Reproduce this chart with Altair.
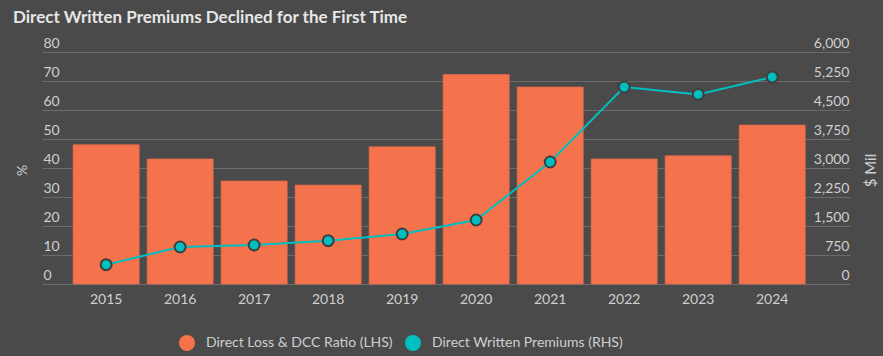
import altair as alt
import pandas as pd

years = ["2015", "2016", "2017", "2018", "2019", "2020", "2021", "2022", "2023", "2024"]
loss_ratio = [48.0, 43.1, 35.5, 34.1, 47.3, 72.2, 67.9, 43.1, 44.2, 54.8]
premiums = [500, 957, 1009, 1120, 1293, 1655, 3155, 5095, 4904, 5353]
series_names = ["Direct Loss & DCC Ratio (LHS)", "Direct Written Premiums (RHS)"]
series_colors = ["#f5734c", "#00bfc0"]
left_ticks = [0, 10, 20, 30, 40, 50, 60, 70, 80]
right_ticks = [0, 750, 1500, 2250, 3000, 3750, 4500, 5250, 6000]

df = pd.DataFrame({
    "year": years,
    "ratio": loss_ratio,
    "prem": premiums,
    "s1": series_names[0],
    "s2": series_names[1],
})

BG = "#4a4a4a"
TXT = "#cfcfcf"
GRID = "#6b6b6b"
FONT = "Lato"

x = alt.X("year:N", title=None,
          scale=alt.Scale(paddingInner=0.108, paddingOuter=0.513, align=0.41),
          axis=alt.Axis(labelAngle=0, ticks=False, domain=False, grid=False,
                        labelPadding=8, labelFontSize=14, labelColor=TXT, labelFont=FONT))

color_scale = alt.Scale(domain=series_names, range=series_colors)
legend = alt.Legend(title=None, orient="none", legendX=137, legendY=283, direction="horizontal",
                    symbolType="circle", symbolSize=256, symbolStrokeWidth=0,
                    labelFontSize=14, labelColor=TXT, labelFont=FONT, labelLimit=400,
                    labelOffset=11, columnPadding=12)

bars = alt.Chart(df).mark_bar(stroke="#e0694a", strokeWidth=0.8).encode(
    x=x,
    y=alt.Y("ratio:Q", title="%",
            scale=alt.Scale(domain=[0, 80]),
            axis=alt.Axis(values=left_ticks, ticks=False, domain=False, grid=True,
                          gridColor=GRID, gridWidth=1.2,
                          labelAlign="left", labelBaseline="bottom", labelPadding=-1,
                          labelOffset=-2, labelFontSize=14, labelColor=TXT, labelFont=FONT,
                          titleAngle=-90, titleX=-20, titleY=118, titleBaseline="middle",
                          titleFontSize=14, titleFontWeight="normal", titleColor=TXT, titleFont=FONT)),
    color=alt.Color("s1:N", scale=color_scale, legend=legend),
)

yr_axis = alt.Axis(orient="right", values=right_ticks, format=",.0f", formatType="number",
                   ticks=False, domain=False,
                   grid=False, labelAlign="right", labelBaseline="bottom", labelPadding=-1,
                   labelOffset=-2, labelFontSize=14, labelColor=TXT, labelFont=FONT,
                   titleAngle=-90, titleX=20, titleY=118, titleBaseline="middle",
                   titleFontSize=15, titleFontWeight="normal", titleColor=TXT, titleFont=FONT)

line = alt.Chart(df).mark_line(color=series_colors[1], strokeWidth=2).encode(
    x=x,
    y=alt.Y("prem:Q", title="$ Mil", scale=alt.Scale(domain=[0, 6000]), axis=yr_axis),
)
pts = alt.Chart(df).mark_point(filled=True, size=120, stroke="#3e3e3e", strokeWidth=2, opacity=1).encode(
    x=x,
    y=alt.Y("prem:Q", title="$ Mil", scale=alt.Scale(domain=[0, 6000]), axis=yr_axis),
    color=alt.Color("s2:N", scale=color_scale, legend=legend),
)

right = alt.layer(line, pts)

chart = alt.layer(bars, right).resolve_scale(y="independent").properties(
    width=808, height=232,
    autosize=alt.AutoSizeParams(type="none"),
    padding={"left": 42, "top": 52, "right": 33, "bottom": 72},
    background=BG,
    title=alt.TitleParams("Direct Written Premiums Declined for the First Time",
                          anchor="start", dx=-2, dy=-5, fontSize=17, fontWeight="bold",
                          color="#e6e6e6", font=FONT),
).configure_view(stroke=None)

chart.save("out.html", embed_options={"renderer": "svg", "actions": False})
